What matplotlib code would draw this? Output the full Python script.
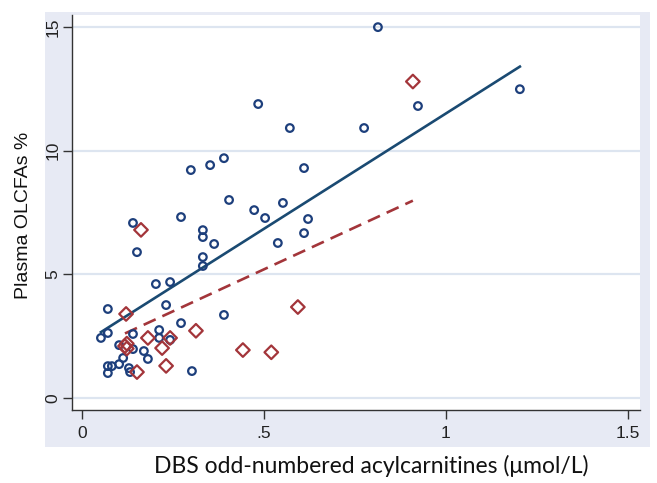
import numpy as np
import matplotlib
matplotlib.use("Agg")
import matplotlib.pyplot as plt
from matplotlib.patches import Rectangle

# Group 1 (navy circles)
blue_x = [0.813, 1.203, 0.923, 0.484, 0.571, 0.775, 0.610, 0.299, 0.352, 0.390,
          0.404, 0.552, 0.473, 0.503, 0.621, 0.610, 0.272, 0.140, 0.151, 0.332,
          0.332, 0.363, 0.332, 0.332, 0.538, 0.203, 0.242, 0.231, 0.390, 0.071,
          0.272, 0.052, 0.071, 0.140, 0.212, 0.212, 0.242, 0.102, 0.140, 0.170,
          0.181, 0.113, 0.102, 0.071, 0.082, 0.071, 0.129, 0.132, 0.302]
blue_y = [15.0, 12.49, 11.81, 11.89, 10.92, 10.92, 9.30, 9.22, 9.42, 9.70,
          8.01, 7.89, 7.60, 7.28, 7.24, 6.67, 7.32, 7.08, 5.90, 6.79,
          6.51, 6.23, 5.70, 5.34, 6.27, 4.61, 4.69, 3.76, 3.36, 3.60,
          3.03, 2.43, 2.63, 2.59, 2.75, 2.43, 2.35, 2.14, 1.98, 1.90,
          1.58, 1.62, 1.37, 1.29, 1.29, 1.01, 1.21, 1.05, 1.09]

# Group 2 (maroon diamonds)
red_x = [0.162, 0.121, 0.181, 0.242, 0.313, 0.123, 0.123, 0.118, 0.151, 0.220,
         0.231, 0.442, 0.520, 0.593, 0.909]
red_y = [6.80, 3.40, 2.43, 2.43, 2.72, 2.20, 2.00, 2.10, 1.05, 2.02,
         1.30, 1.94, 1.85, 3.68, 12.80]

# linear fits (intercept, slope)
blue_fit = (2.18, 9.33)
red_fit = (1.81, 6.79)

navy = "#1d3f7c"
navy_line = "#1a4a72"
maroon = "#a3353a"
grid_c = "#dde5f0"
bg_c = "#e7eaf4"

fig = plt.figure(figsize=(6.57, 4.83), dpi=100)
fig.patch.set_facecolor("white")
bg = Rectangle((0.0685, 0.0745), 0.9208, 0.9005, transform=fig.transFigure,
               facecolor=bg_c, edgecolor="none", zorder=-5)
fig.add_artist(bg)

ax = fig.add_axes([0.1096, 0.1511, 0.8645, 0.8178])
ax.set_facecolor("white")
ax.set_xlim(-0.0275, 1.533)
ax.set_ylim(-0.485, 15.49)

for v in [0, 5, 10, 15]:
    ax.axhline(v, color=grid_c, lw=1.6, zorder=1)

ax.scatter(blue_x, blue_y, s=30, marker="o", facecolors="none", edgecolors=navy,
           linewidths=1.6, zorder=3)
ax.scatter(red_x, red_y, s=48, marker="D", facecolors="none", edgecolors=maroon,
           linewidths=1.6, zorder=3)

bx = np.array([min(blue_x), max(blue_x)])
ax.plot(bx, blue_fit[0] + blue_fit[1] * bx, color=navy_line, lw=1.9, zorder=2)
rx = np.array([min(red_x), max(red_x)])
ax.plot(rx, red_fit[0] + red_fit[1] * rx, color=maroon, lw=1.9, dashes=(5, 2.8), zorder=2)

ax.set_xticks([0, 0.5, 1, 1.5])
ax.set_xticklabels(["0", ".5", "1", "1.5"])
ax.set_yticks([0, 5, 10, 15])
ax.set_yticklabels(["0", "5", "10", "15"], rotation=90, va="center")
ax.tick_params(axis="both", direction="out", length=6.5, width=1, color="#333333",
               labelsize=12.5)
ax.tick_params(axis="x", pad=5)
ax.tick_params(axis="y", pad=2)
for lab in ax.get_xticklabels() + ax.get_yticklabels():
    lab.set_fontfamily("Liberation Sans")
    lab.set_color("#222222")

for s in ["top", "right"]:
    ax.spines[s].set_visible(False)
for s in ["left", "bottom"]:
    ax.spines[s].set_color("#333333")
    ax.spines[s].set_linewidth(1)

fig.text(0.565, 0.036, "DBS odd-numbered acylcarnitines (\u03bcmol/L)", ha="center", va="center",
         fontsize=16.5, family="Lato", color="#111111")
fig.text(0.036, 0.555, "Plasma OLCFAs %", ha="center", va="center", rotation=90,
         fontsize=14, family="Liberation Sans", color="#111111")

fig.savefig("out.png", dpi=100)
